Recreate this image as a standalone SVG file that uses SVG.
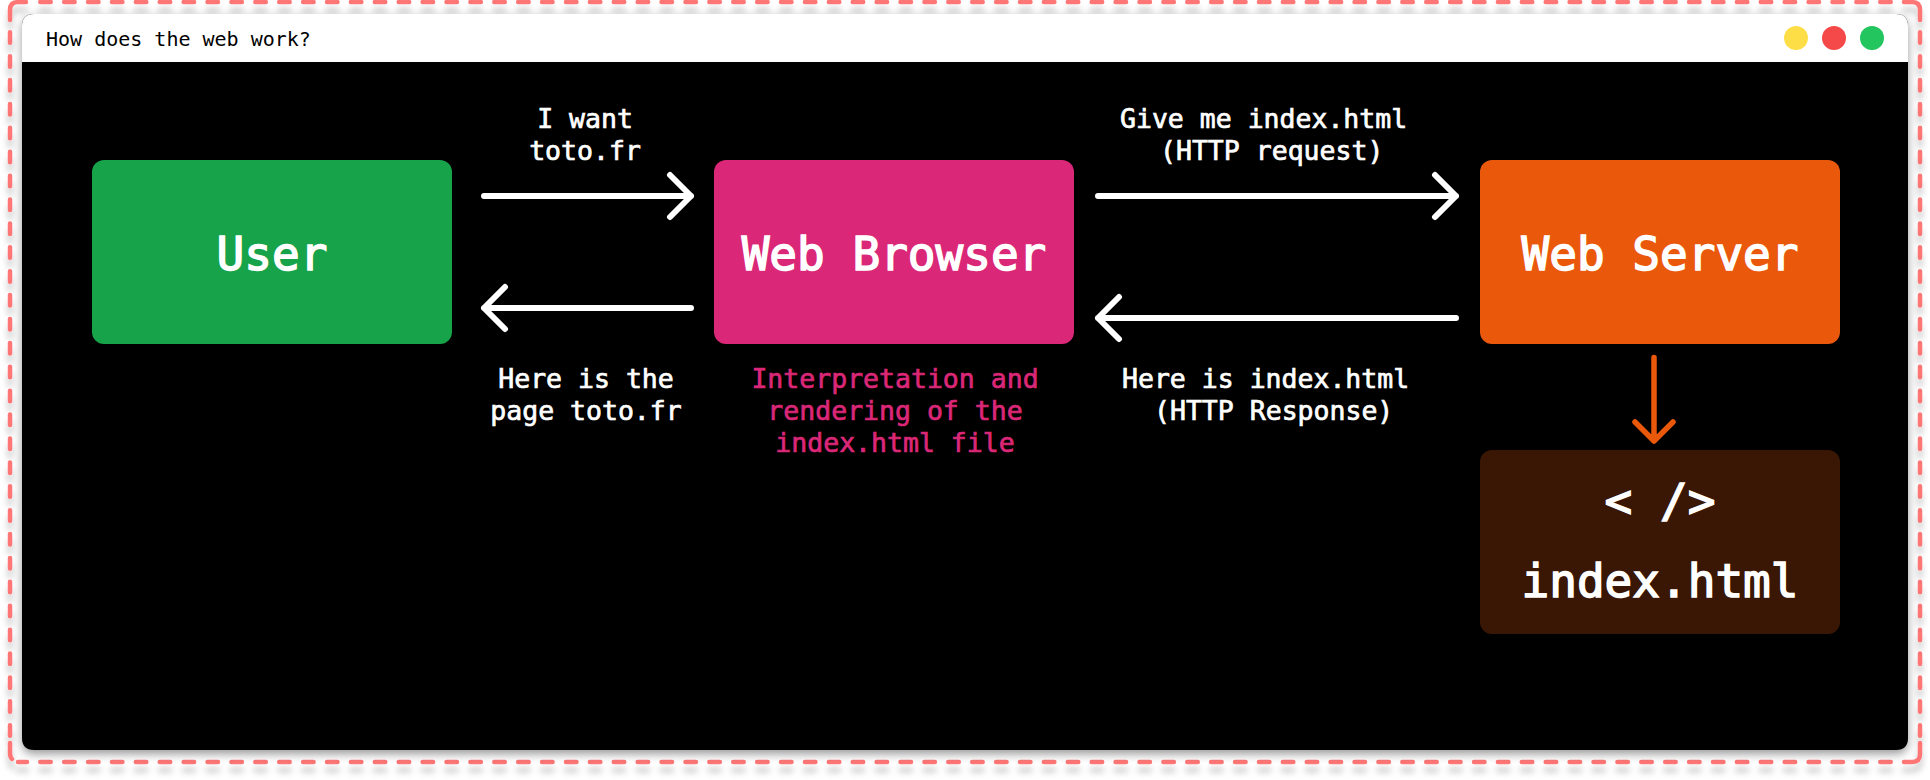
<svg xmlns="http://www.w3.org/2000/svg" width="1930" height="780" viewBox="0 0 1930 780">
<style>
text{font-family:"DejaVu Sans Mono","Liberation Mono",monospace;fill:#fff;white-space:pre}
.big{font-size:46px;text-anchor:middle;stroke:#fff;stroke-width:1.5px}
.lab{font-size:26.5px;stroke:#fff;stroke-width:.7px}
.mid{text-anchor:middle}
.pink{fill:#db2777;stroke:#db2777}
.box{rx:12px;ry:12px}
.arrow{fill:none;stroke:#fff;stroke-width:6;stroke-linecap:round;stroke-linejoin:round}
.orange{stroke:#ea580c;stroke-width:5.5}
.dash{fill:none;stroke:#ff7676;stroke-width:4.5;stroke-linecap:round;stroke-dasharray:10.5 13.396}
.solid{stroke-dasharray:none}
</style>
<defs>
<filter id="winShadow" x="-5%" y="-10%" width="110%" height="120%"><feDropShadow dx="0" dy="4" stdDeviation="5" flood-color="#000" flood-opacity=".4"/></filter>
<filter id="dashShadow" x="-5%" y="-10%" width="110%" height="120%"><feDropShadow dx="0" dy="8" stdDeviation="3" flood-color="#000" flood-opacity=".22"/></filter>
</defs>
<rect width="1930" height="780" fill="#fff"/>
<g id="frame" filter="url(#dashShadow)">
<path class="dash" d="M40.25,2H1893M40.25,762H1893M10,32.25V738M1920,32.25V738"/>
<path class="dash solid" d="M10,20V10Q10,2 18,2H26M1904,2H1912Q1920,2 1920,10V20M10,743V753Q10,757 12,759M18,762H27M1904,762H1912Q1920,762 1920,754V743"/>
</g>
<g id="window">
<path d="M34,14H1896Q1908,14 1908,26V738Q1908,750 1896,750H34Q22,750 22,738V26Q22,14 34,14Z" fill="#000" filter="url(#winShadow)"/>
<path d="M34,14H1896Q1908,14 1908,26V62H22V26Q22,14 34,14Z" fill="#fff"/>
<text x="46" y="46" font-size="20" style="fill:#000">How does the web work?</text>
<circle cx="1796" cy="38" r="12" fill="#fede47"/>
<circle cx="1834" cy="38" r="12" fill="#f54848"/>
<circle cx="1872" cy="38" r="12" fill="#22c55e"/>
</g>
<g id="connectors">
<path class="arrow" d="M484,196H691M670,175L691,196L670,217"/>
<path class="arrow" d="M691,308H484M505,287L484,308L505,329"/>
<path class="arrow" d="M1098,196H1456M1435,175L1456,196L1435,217"/>
<path class="arrow" d="M1456,318H1098M1119,297L1098,318L1119,339"/>
<path class="arrow orange" d="M1654,357.5V441M1635,422L1654,441L1673,422"/>
</g>
<g id="labels">
<text class="lab mid" x="585" y="128">I want</text>
<text class="lab mid" x="585" y="160">toto.fr</text>
<text class="lab mid" x="586" y="388">Here is the</text>
<text class="lab mid" x="586" y="420">page toto.fr</text>
<text class="lab" x="1120" y="128">Give me index.html</text>
<text class="lab" x="1160" y="160">(HTTP request)</text>
<text class="lab" x="1122" y="388">Here is index.html</text>
<text class="lab" x="1154" y="420">(HTTP Response)</text>
<text class="lab mid pink" x="895" y="388">Interpretation and</text>
<text class="lab mid pink" x="895" y="420">rendering of the</text>
<text class="lab mid pink" x="895" y="452">index.html file</text>
</g>
<g id="user"><rect class="box" x="92" y="160" width="360" height="184" fill="#16a34a"/><text class="big" x="272" y="270">User</text></g>
<g id="browser"><rect class="box" x="714" y="160" width="360" height="184" fill="#db2777"/><text class="big" x="894" y="270">Web Browser</text></g>
<g id="server"><rect class="box" x="1480" y="160" width="360" height="184" fill="#ea580c"/><text class="big" x="1660" y="270">Web Server</text></g>
<g id="file"><rect class="box" x="1480" y="450" width="360" height="184" fill="#3a1604"/><text class="big" x="1660" y="517">&lt; /&gt;</text><text class="big" x="1660" y="597">index.html</text></g>
</svg>
